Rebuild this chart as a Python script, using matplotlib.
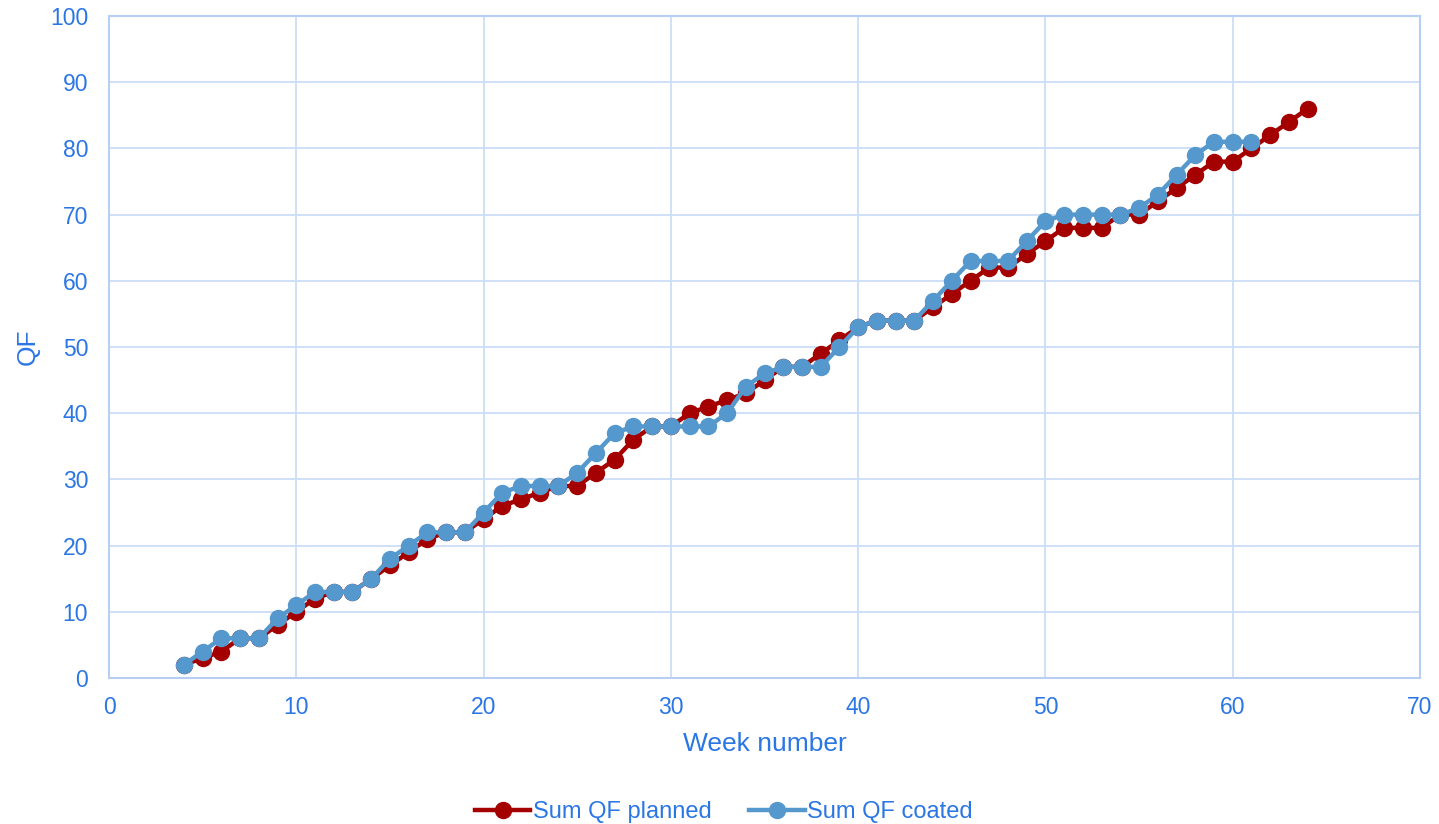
import matplotlib.pyplot as plt
import numpy as np

from matplotlib import rcParams
rcParams['font.family'] = ['Liberation Sans', 'DejaVu Sans']

# weekly cumulative QF
weeks_planned = np.arange(4, 65)
qf_planned = [2, 3, 4, 6, 6, 8, 10, 12, 13, 13,
              15, 17, 19, 21, 22, 22, 24, 26, 27, 28,
              29, 29, 31, 33, 36, 38, 38, 40, 41, 42,
              43, 45, 47, 47, 49, 51, 53, 54, 54, 54,
              56, 58, 60, 62, 62, 64, 66, 68, 68, 68,
              70, 70, 72, 74, 76, 78, 78, 80, 82, 84,
              86]

weeks_coated = np.arange(4, 62)
qf_coated = [2, 4, 6, 6, 6, 9, 11, 13, 13, 13,
             15, 18, 20, 22, 22, 22, 25, 28, 29, 29,
             29, 31, 34, 37, 38, 38, 38, 38, 38, 40,
             44, 46, 47, 47, 47, 50, 53, 54, 54, 54,
             57, 60, 63, 63, 63, 66, 69, 70, 70, 70,
             70, 71, 73, 76, 79, 81, 81, 81]

text_col = '#2B76E5'
grid_col = '#CCDDF7'
spine_col = '#B6CFF3'
red = '#A50000'
blue = '#5598CD'

fig = plt.figure(figsize=(14.39, 8.24), dpi=100)
ax = fig.add_axes([109/1439, 1 - 678/824, (1420-109)/1439, (678-16)/824])

ax.plot(weeks_planned, qf_planned, color=red, lw=3.2, marker='o', ms=11.5,
        label='Sum QF planned', zorder=3)
ax.plot(weeks_coated, qf_coated, color=blue, lw=3.2, marker='o', ms=11.5,
        label='Sum QF coated', zorder=4)

ax.set_xlim(0, 70)
ax.set_ylim(0, 100)
ax.set_xticks(np.arange(0, 71, 10))
ax.set_yticks(np.arange(0, 101, 10))
ax.grid(True, color=grid_col, lw=1.3)
ax.set_axisbelow(True)
for s in ax.spines.values():
    s.set_color(spine_col)
    s.set_linewidth(1.5)
ax.tick_params(axis='both', length=0, labelsize=16.5, labelcolor=text_col)
ax.tick_params(axis='x', pad=13)
ax.tick_params(axis='y', pad=15)

ax.set_xlabel('Week number', fontsize=19, color=text_col, labelpad=9)
ax.set_ylabel('QF', fontsize=19, color=text_col, labelpad=7)

leg = fig.legend(loc='center', bbox_to_anchor=(0.503, 12/824), ncol=2,
                 frameon=False, fontsize=17, handlelength=2.35,
                 handletextpad=0.1, columnspacing=1.6)
for t in leg.get_texts():
    t.set_color(text_col)

fig.savefig('out.png', dpi=100)
